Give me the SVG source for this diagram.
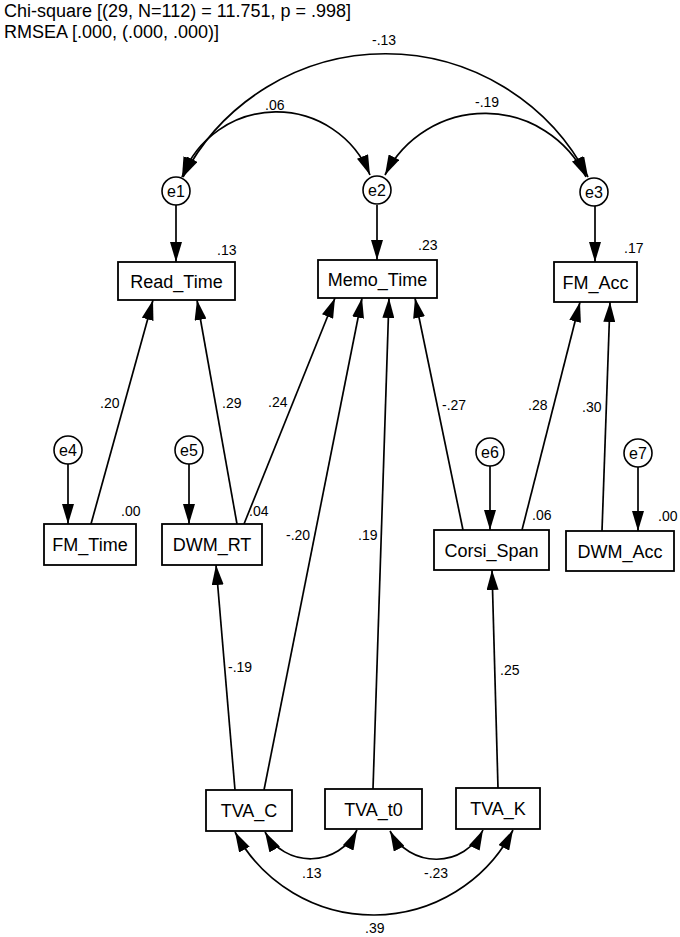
<svg xmlns="http://www.w3.org/2000/svg" width="680" height="937" viewBox="0 0 680 937">
<style>
text{font-family:"Liberation Sans",Arial,sans-serif;fill:#000}
.hdr{font-size:18px}
.box{fill:#fff;stroke:#000;stroke-width:1.8}
.circ{fill:#fff;stroke:#000;stroke-width:1.6}
.lbl{font-size:18px;text-anchor:middle}
.el{font-size:16px;text-anchor:middle}
.num{font-size:14px}
.ln{fill:none;stroke:#000;stroke-width:1.7;marker-end:url(#ah)}
.cv{fill:none;stroke:#000;stroke-width:1.7;marker-start:url(#ah);marker-end:url(#ah)}
</style>
<defs>
<marker id="ah" viewBox="0 0 20 12" refX="20" refY="6" markerWidth="20" markerHeight="12" markerUnits="userSpaceOnUse" orient="auto-start-reverse">
<path d="M0,0 L20,6 L0,12 z" fill="#000"/>
</marker>
</defs>
<rect width="680" height="937" fill="#fff"/>
<text class="hdr" x="4" y="17">Chi-square [(29, N=112) = 11.751, p = .998]</text>
<text class="hdr" x="4" y="38">RMSEA [.000, (.000, .000)]</text>

<g id="connectors">
<path class="cv" d="M183,177 A228,228 0 0 1 588,177"/>
<path class="cv" d="M182,177 A101,101 0 0 1 370,175"/>
<path class="cv" d="M385,175 A112,112 0 0 1 586,177"/>
<line class="ln" x1="176" y1="205" x2="176" y2="262"/>
<line class="ln" x1="377" y1="205" x2="377" y2="260"/>
<line class="ln" x1="595" y1="206" x2="595" y2="262"/>
<line class="ln" x1="68" y1="464" x2="68" y2="524"/>
<line class="ln" x1="189" y1="464" x2="189" y2="524"/>
<line class="ln" x1="490" y1="466" x2="490" y2="530"/>
<line class="ln" x1="638" y1="467" x2="638" y2="531"/>
<line class="ln" x1="91" y1="524" x2="153" y2="300"/>
<line class="ln" x1="237" y1="524" x2="197" y2="300"/>
<line class="ln" x1="244" y1="524" x2="335" y2="298"/>
<line class="ln" x1="264" y1="790" x2="362" y2="298"/>
<line class="ln" x1="373" y1="789" x2="389" y2="298"/>
<line class="ln" x1="463" y1="530" x2="415" y2="298"/>
<line class="ln" x1="522" y1="530" x2="580" y2="302"/>
<line class="ln" x1="602" y1="531" x2="610" y2="302"/>
<line class="ln" x1="235" y1="790" x2="216" y2="565"/>
<line class="ln" x1="498" y1="788" x2="492" y2="570"/>
<path class="cv" d="M265,832 A52,52 0 0 0 357,830"/>
<path class="cv" d="M390,831 A52,52 0 0 0 483,830"/>
<path class="cv" d="M235,832 A157,157 0 0 0 513,830"/>
<text class="num" x="372" y="45">-.13</text>
<text class="num" x="265" y="110">.06</text>
<text class="num" x="475" y="107">-.19</text>
<text class="num" x="100" y="408">.20</text>
<text class="num" x="222" y="408">.29</text>
<text class="num" x="268" y="407">.24</text>
<text class="num" x="442" y="410">-.27</text>
<text class="num" x="528" y="410">.28</text>
<text class="num" x="582" y="412">.30</text>
<text class="num" x="286" y="540">-.20</text>
<text class="num" x="358" y="540">.19</text>
<text class="num" x="228" y="672">-.19</text>
<text class="num" x="500" y="675">.25</text>
<text class="num" x="302" y="878">.13</text>
<text class="num" x="424" y="878">-.23</text>
<text class="num" x="365" y="933">.39</text>
</g>

<g id="e1"><circle class="circ" cx="176" cy="191" r="14"/><text class="el" x="176" y="197">e1</text></g>
<g id="e2"><circle class="circ" cx="377" cy="190" r="14"/><text class="el" x="377" y="196">e2</text></g>
<g id="e3"><circle class="circ" cx="594" cy="192" r="14"/><text class="el" x="594" y="198">e3</text></g>
<g id="e4"><circle class="circ" cx="68" cy="450" r="14"/><text class="el" x="68" y="456">e4</text></g>
<g id="e5"><circle class="circ" cx="189" cy="450" r="14"/><text class="el" x="189" y="456">e5</text></g>
<g id="e6"><circle class="circ" cx="490" cy="452" r="14"/><text class="el" x="490" y="458">e6</text></g>
<g id="e7"><circle class="circ" cx="638" cy="453" r="14"/><text class="el" x="638" y="459">e7</text></g>

<g id="Read_Time"><rect class="box" x="118" y="262" width="117" height="38"/><text class="lbl" x="176.5" y="288">Read_Time</text><text class="num" x="217" y="255">.13</text></g>
<g id="Memo_Time"><rect class="box" x="318" y="260" width="119" height="38"/><text class="lbl" x="377.5" y="286">Memo_Time</text><text class="num" x="418" y="250">.23</text></g>
<g id="FM_Acc"><rect class="box" x="554" y="262" width="83" height="40"/><text class="lbl" x="595.5" y="289">FM_Acc</text><text class="num" x="624" y="253">.17</text></g>
<g id="FM_Time"><rect class="box" x="44" y="524" width="92" height="41"/><text class="lbl" x="90" y="551">FM_Time</text><text class="num" x="121" y="516">.00</text></g>
<g id="DWM_RT"><rect class="box" x="162" y="524" width="100" height="41"/><text class="lbl" x="212" y="551">DWM_RT</text><text class="num" x="249" y="516">.04</text></g>
<g id="Corsi_Span"><rect class="box" x="434" y="530" width="115" height="40"/><text class="lbl" x="491.5" y="557">Corsi_Span</text><text class="num" x="532" y="520">.06</text></g>
<g id="DWM_Acc"><rect class="box" x="566" y="531" width="108" height="40"/><text class="lbl" x="620" y="558">DWM_Acc</text><text class="num" x="658" y="521">.00</text></g>
<g id="TVA_C"><rect class="box" x="206" y="790" width="86" height="41"/><text class="lbl" x="249" y="817">TVA_C</text></g>
<g id="TVA_t0"><rect class="box" x="325" y="789" width="97" height="40"/><text class="lbl" x="373.5" y="816">TVA_t0</text></g>
<g id="TVA_K"><rect class="box" x="456" y="788" width="84" height="41"/><text class="lbl" x="498" y="815">TVA_K</text></g>
</svg>
